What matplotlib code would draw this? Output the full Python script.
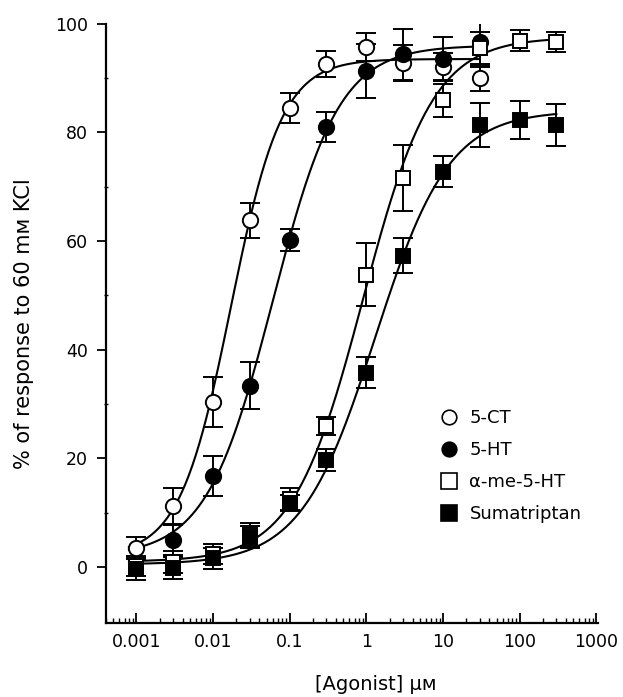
import numpy as np
import matplotlib
matplotlib.use('Agg')
import matplotlib.pyplot as plt
from matplotlib.lines import Line2D

plt.rcParams['font.family'] = ['DejaVu Sans']

# concentrations (uM)
conc_circ = [0.001, 0.003, 0.01, 0.03, 0.1, 0.3, 1, 3, 10, 30]
conc_ht = [0.003, 0.01, 0.03, 0.1, 0.3, 1, 3, 10, 30]
conc_sq = [0.001, 0.003, 0.01, 0.03, 0.1, 0.3, 1, 3, 10, 30, 100, 300]

# % of response to 60 mM KCl, mean and s.e.m.
ct_mean = [3.5, 11.3, 30.3, 63.8, 84.5, 92.6, 95.7, 92.8, 92.1, 90.0]
ct_err = [2.0, 3.3, 4.6, 3.2, 2.7, 2.4, 2.5, 3.3, 2.5, 2.3]
ht_mean = [5.0, 16.8, 33.4, 60.2, 81.0, 91.3, 94.4, 93.5, 96.6]
ht_err = [2.8, 3.7, 4.3, 2.0, 2.7, 5.0, 4.7, 4.0, 4.6]
ame_mean = [0.2, 0.9, 2.4, 6.0, 12.6, 26.0, 53.8, 71.6, 85.9, 95.5, 96.9, 96.6]
ame_err = [1.9, 2.0, 1.8, 2.2, 2.0, 1.7, 5.8, 6.0, 3.0, 3.0, 2.0, 1.8]
suma_mean = [-0.3, -0.2, 1.6, 5.5, 11.8, 19.7, 35.8, 57.3, 72.8, 81.4, 82.2, 81.4]
suma_err = [2.0, 2.0, 2.0, 2.0, 1.5, 2.0, 2.9, 3.2, 2.8, 4.0, 3.5, 3.9]

# fitted Hill curves: bottom, top, EC50 (uM), slope, curve end (uM)
fit_ct = [2.0, 93.5, 0.017, 1.3, 30]
fit_ht = [2.0, 96.0, 0.06, 1.0, 30]
fit_ame = [1.0, 97.5, 0.9, 0.95, 300]
fit_suma = [0.5, 84.0, 1.3, 0.9, 300]

labels = ['5-CT', '5-HT', '\u03b1-me-5-HT', 'Sumatriptan']
x_ticks = [0.001, 0.01, 0.1, 1, 10, 100, 1000]
x_ticklabels = ['0.001', '0.01', '0.1', '1', '10', '100', '1000']


def hill(x, p):
    bottom, top, ec50, n, _ = p
    return bottom + (top - bottom) / (1 + (ec50 / x) ** n)


fig = plt.figure(figsize=(6.23, 6.97), dpi=100)
ax = fig.add_axes([0.170, 0.106, 0.790, 0.860])

series = [
    (conc_circ, ct_mean, ct_err, fit_ct, 'o', 'white'),
    (conc_ht, ht_mean, ht_err, fit_ht, 'o', 'black'),
    (conc_sq, ame_mean, ame_err, fit_ame, 's', 'white'),
    (conc_sq, suma_mean, suma_err, fit_suma, 's', 'black'),
]

for x, y, e, p, m, fc in series:
    xs = np.logspace(np.log10(0.0008), np.log10(p[4]), 300)
    ax.plot(xs, hill(xs, p), color='black', lw=1.5, zorder=2)

for x, y, e, p, m, fc in series:
    ax.errorbar(x, y, yerr=e, fmt=m, ms=11 if m == 'o' else 10,
                mfc=fc, mec='black', mew=1.4, ecolor='black',
                elinewidth=1.4, capsize=7.5, capthick=1.4, zorder=3)

ax.set_xscale('log')
ax.set_xlim(4e-4, 1050)
ax.set_ylim(-10.3, 100)
ax.set_xticks(x_ticks)
ax.set_xticklabels(x_ticklabels)
ax.xaxis.set_minor_locator(matplotlib.ticker.LogLocator(base=10, subs=np.arange(2, 10), numticks=20))
ax.xaxis.set_minor_formatter(matplotlib.ticker.NullFormatter())
ax.set_yticks([0, 20, 40, 60, 80, 100])
ax.set_yticks([10, 30, 50, 70, 90], minor=True)

ax.tick_params(axis='x', which='major', direction='in', length=7, width=1.3, labelsize=12.5, pad=7)
ax.tick_params(axis='x', which='minor', direction='in', length=3.5, width=1.0)
ax.tick_params(axis='y', which='major', direction='out', length=6.5, width=1.3, labelsize=12.5, pad=6.5)
ax.tick_params(axis='y', which='minor', direction='inout', length=3, width=1.0)

for s in ['top', 'right']:
    ax.spines[s].set_visible(False)
for s in ['left', 'bottom']:
    ax.spines[s].set_linewidth(1.6)

ax.set_xlabel('[Agonist] \u03bc\u1d0d', fontsize=14)
ax.xaxis.set_label_coords(0.549, -0.087)
ax.set_ylabel('% of response to 60 m\u1d0d KCl', fontsize=15)
ax.yaxis.set_label_coords(-0.147, 0.5)

handles = [Line2D([], [], ls='none', marker=m, ms=10.5 if m == 'o' else 11, mfc=fc,
                  mec='black', mew=1.2)
           for (_, _, _, _, m, fc) in series]
ax.legend(handles, labels, loc='upper left', bbox_to_anchor=(0.678, 0.357),
          frameon=False, fontsize=13, handlelength=1.0, handletextpad=0.65,
          labelspacing=0.78, borderpad=0, borderaxespad=0)

fig.savefig('out.png', dpi=100)
